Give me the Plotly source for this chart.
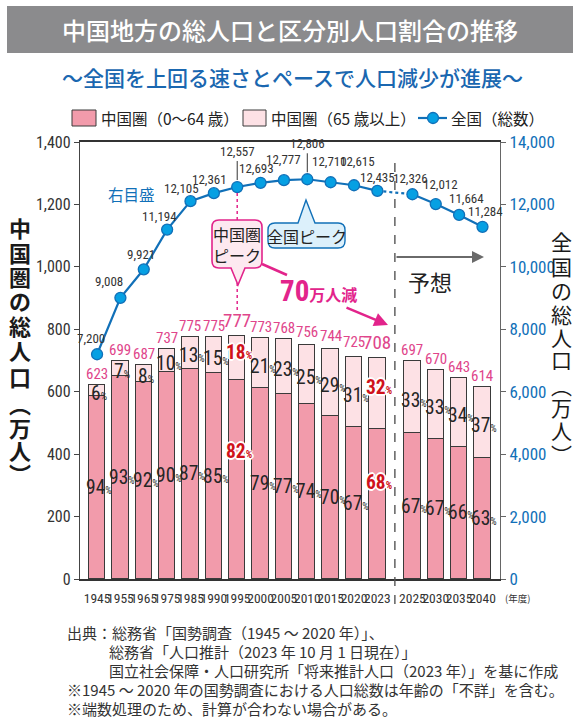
import plotly.graph_objects as go

# ---------------- data ----------------
years = ["1945", "1955", "1965", "1975", "1985", "1990", "1995", "2000", "2005",
         "2010", "2015", "2020", "2023", "2025", "2030", "2035", "2040"]
chugoku_total = [623, 699, 687, 737, 775, 775, 777, 773, 768, 756, 744, 725, 708,
                 697, 670, 643, 614]
pct_0_64 = [94, 93, 92, 90, 87, 85, 82, 79, 77, 74, 70, 67, 68, 67, 67, 66, 63]
pct_65_over = [6, 7, 8, 10, 13, 15, 18, 21, 23, 25, 29, 31, 32, 33, 33, 34, 37]
national_total = [7200, 9008, 9921, 11194, 12105, 12361, 12557, 12693, 12777, 12806,
                  12710, 12615, 12435, 12326, 12012, 11664, 11284]
left_ticks = [0, 200, 400, 600, 800, 1000, 1200, 1400]
right_ticks = [0, 2000, 4000, 6000, 8000, 10000, 12000, 14000]
highlight_years = ["1995", "2023"]

young = [t * p / 100 for t, p in zip(chugoku_total, pct_0_64)]
old = [t * p / 100 for t, p in zip(chugoku_total, pct_65_over)]

# category positions (extra gap between actual and forecast)
N_ACTUAL = 13
pos = [i + (0.5 if i >= N_ACTUAL else 0) for i in range(len(years))]

# ---------------- layout geometry ----------------
W, H = 573, 720
L, R, T, B = 80, 500, 142, 579


def pxx(X):
    return (X - L) / (R - L)


def pyy(Y):
    return (B - Y) / (B - T)


NARROW = "Roboto Condensed, Liberation Sans Narrow, sans-serif"
JP = "Noto Sans CJK JP, sans-serif"

C_YOUNG = "#f29bab"
C_OLD = "#fde1e5"
C_EDGE = "#3a3a3a"
C_BLUE = "#1170b8"
C_MARK = "#06a0e3"
C_PINK = "#e0458b"
C_MAG = "#e2248b"
C_RED = "#d0121b"

fig = go.Figure()

fig.add_trace(go.Bar(x=pos, y=young, width=0.7, marker=dict(color=C_YOUNG, line=dict(color=C_EDGE, width=1.2)),
                     showlegend=False, hoverinfo="skip"))
fig.add_trace(go.Bar(x=pos, y=old, width=0.7, marker=dict(color=C_OLD, line=dict(color=C_EDGE, width=1.2)),
                     showlegend=False, hoverinfo="skip"))

# national line: solid actual, dashed bridge, solid forecast
fig.add_trace(go.Scatter(x=pos[N_ACTUAL - 1:N_ACTUAL + 1], y=national_total[N_ACTUAL - 1:N_ACTUAL + 1],
                         yaxis="y2", mode="lines", line=dict(color=C_BLUE, width=2.2, dash="dot"),
                         showlegend=False, hoverinfo="skip"))
for sl in (slice(0, N_ACTUAL), slice(N_ACTUAL, None)):
    fig.add_trace(go.Scatter(x=pos[sl], y=national_total[sl], yaxis="y2", mode="lines+markers",
                             line=dict(color=C_BLUE, width=2.2),
                             marker=dict(size=11, color=C_MARK, line=dict(color=C_BLUE, width=1.3)),
                             showlegend=False, hoverinfo="skip"))

ann = []
shapes = []


def ptext(X, Y, text, font, xanchor="center", yanchor="middle"):
    ann.append(dict(x=pxx(X), y=pyy(Y), xref="paper", yref="paper", showarrow=False, text=text,
                    xanchor=xanchor, yanchor=yanchor, font=font))


# bar total labels
for i, (x, t) in enumerate(zip(pos, chugoku_total)):
    big = years[i] in highlight_years
    ann.append(dict(x=x, y=t, xref="x", yref="y", text=str(t), showarrow=False,
                    xanchor="center", yanchor="middle", yshift=16 if big else 11,
                    font=dict(family=NARROW, size=19 if big else 15, color=C_PINK)))

# percentage labels
for i, x in enumerate(pos):
    hl = years[i] in highlight_years
    col = C_RED if hl else "#262626"
    shadow = ("1px 1px 0 #fff, -1px -1px 0 #fff, 1px -1px 0 #fff, -1px 1px 0 #fff, "
              "0 2px 0 #fff, 0 -2px 0 #fff, 2px 0 0 #fff, -2px 0 0 #fff") if hl else "none"
    yy = young[i] * (0.64 if hl else 0.5)
    ann.append(dict(x=x, y=yy, xref="x", yref="y", showarrow=False, xshift=2,
                    xanchor="center", yanchor="middle",
                    text=f"{pct_0_64[i]}<span style='font-size:10px'>%</span>",
                    font=dict(family=NARROW, size=19.5, color=col, weight="bold" if hl else "normal",
                              shadow=shadow)))
    yo = young[i] + old[i] * 0.5
    ann.append(dict(x=x, y=yo, xref="x", yref="y", showarrow=False, xshift=2,
                    xanchor="center", yanchor="middle", yshift=(6 if hl else -3),
                    text=f"{pct_65_over[i]}<span style='font-size:10px'>%</span>",
                    font=dict(family=NARROW, size=19.5, color=col, weight="bold" if hl else "normal",
                              shadow=shadow)))

# national value labels (offsets in px)
offs = [(-6, -16), (-11, -16), (-3, -15), (-8, -13), (-9, -13), (-4, -14), None, (-4, -14), (0, -21), None,
        (-1, -21), (3, -24), (0, -13), (-2, -16), (5, -20), (7, -16), (3, -15)]
for i, (x, v) in enumerate(zip(pos, national_total)):
    txt = f"{v:,}"
    f = dict(family=NARROW, size=13, color="#333")
    if offs[i] is None:
        ann.append(dict(x=x, y=v, xref="x", yref="y2", text=txt, showarrow=True, arrowhead=0,
                        arrowwidth=1, arrowcolor="#333", ax=0, ay=-26, standoff=7, font=f,
                        xanchor="center", yanchor="bottom"))
    else:
        dx, dy = offs[i]
        ann.append(dict(x=x, y=v, xref="x", yref="y2", text=txt, showarrow=False,
                        xanchor="center", yanchor="middle", xshift=dx, yshift=-dy, font=f))

# forecast dashed divider
xdiv = (pos[N_ACTUAL - 1] + pos[N_ACTUAL]) / 2
shapes.append(dict(type="line", xref="x", yref="paper", x0=xdiv, x1=xdiv, y0=pyy(604), y1=pyy(160),
                   line=dict(color="#555", width=1.4, dash="dash"), layer="above"))

# pink dotted line from the national peak-year point down to the 777 label
peak_i = chugoku_total.index(max(chugoku_total))
shapes.append(dict(type="line", xref="x", yref="paper", x0=pos[peak_i], x1=pos[peak_i],
                   y0=pyy(310), y1=pyy(192), line=dict(color=C_MAG, width=1.5, dash="dot"), layer="above"))


def bubble(x0, y0, x1, y1, r, side, bx0, bx1, tx, ty):
    p = [("M", x0 + r, y0)]
    if side == "top":
        p += [("L", bx0, y0), ("L", tx, ty), ("L", bx1, y0)]
    p.append(("L", x1 - r, y0))
    p.append(("Q", x1, y0, x1, y0 + r))
    p.append(("L", x1, y1 - r))
    p.append(("Q", x1, y1, x1 - r, y1))
    if side == "bottom":
        p += [("L", bx1, y1), ("L", tx, ty), ("L", bx0, y1)]
    p.append(("L", x0 + r, y1))
    p.append(("Q", x0, y1, x0, y1 - r))
    p.append(("L", x0, y0 + r))
    p.append(("Q", x0, y0, x0 + r, y0))
    s = ""
    for item in p:
        vals = item[1:]
        coords = [f"{pxx(vals[k]):.5f},{pyy(vals[k + 1]):.5f}" for k in range(0, len(vals), 2)]
        s += item[0] + " ".join(coords) + " "
    return s + "Z"


shapes.append(dict(type="path", xref="paper", yref="paper",
                   path=bubble(212, 220, 262, 268, 7, "bottom", 231, 245, 238, 285),
                   fillcolor="#fde9f0", line=dict(color=C_MAG, width=1.6), layer="above"))
ptext(237, 244, "中国圏<br>ピーク", dict(family=JP, size=16, color="#222"))

shapes.append(dict(type="path", xref="paper", yref="paper",
                   path=bubble(268, 223, 345, 248, 7, "top", 298, 315, 306, 200),
                   fillcolor="#dcf0fb", line=dict(color=C_BLUE, width=1.4), layer="above"))
ptext(306.5, 235.5, "全国ピーク", dict(family=JP, size=16, color="#222"))

# magenta connector and arrow
shapes.append(dict(type="line", xref="paper", yref="paper", x0=pxx(262), y0=pyy(264), x1=pxx(287), y1=pyy(275),
                   line=dict(color=C_MAG, width=2.5), layer="above"))
ann.append(dict(x=pxx(388), y=pyy(325), xref="paper", yref="paper", text="", showarrow=True,
                ax=-43, ay=-18, arrowhead=2, arrowsize=1.1, arrowwidth=2.5, arrowcolor=C_MAG))
ptext(318, 291, "70<span style='font-size:16px'>万人減</span>",
      dict(family=NARROW + ", " + JP, size=29, color=C_MAG, weight="bold"))

# forecast arrow and label
ann.append(dict(x=pxx(484), y=pyy(257), xref="paper", yref="paper", text="", showarrow=True,
                ax=-89, ay=0, arrowhead=2, arrowsize=1.2, arrowwidth=2, arrowcolor="#6a6a6a"))
ptext(430, 281, "予想", dict(family=JP, size=22, color="#222"))

ptext(131, 194, "右目盛", dict(family=JP, size=15.5, color=C_BLUE))

# title banner
shapes.append(dict(type="rect", xref="paper", yref="paper", x0=pxx(7), x1=pxx(573), y0=pyy(53), y1=pyy(6),
                   fillcolor="#8b8b8d", line=dict(width=0), layer="below"))
ptext(290, 30, "中国地方の総人口と区分別人口割合の推移", dict(family=JP, size=24, color="#ffffff", weight=500))
ptext(292, 77, "～全国を上回る速さとペースで人口減少が進展～", dict(family=JP, size=21, color="#1a67b0", weight=500))

# legend
shapes.append(dict(type="rect", xref="paper", yref="paper", x0=pxx(72), x1=pxx(96), y0=pyy(126), y1=pyy(110),
                   fillcolor=C_YOUNG, line=dict(color=C_EDGE, width=1)))
ptext(99, 118, "中国圏（0～64 歳）", dict(family=JP, size=15.5, color="#222"), xanchor="left")
shapes.append(dict(type="rect", xref="paper", yref="paper", x0=pxx(243), x1=pxx(266), y0=pyy(126), y1=pyy(110),
                   fillcolor=C_OLD, line=dict(color=C_EDGE, width=1)))
ptext(269, 118, "中国圏（65 歳以上）", dict(family=JP, size=15.5, color="#222"), xanchor="left")
shapes.append(dict(type="line", xref="paper", yref="paper", x0=pxx(418), x1=pxx(447), y0=pyy(118), y1=pyy(118),
                   line=dict(color=C_BLUE, width=2.2)))
shapes.append(dict(type="circle", xref="paper", yref="paper", x0=pxx(427.5), x1=pxx(438.5), y0=pyy(123.5),
                   y1=pyy(112.5), fillcolor=C_MARK, line=dict(color=C_BLUE, width=1.3)))
ptext(449, 118, "全国（総数）", dict(family=JP, size=15.5, color="#222"), xanchor="left")

# vertical axis titles
left_chars = ["中", "国", "圏", "の", "総", "人", "口", "︵", "万", "人", "︶"]
left_y = [227, 252, 276, 300, 325, 350, 376, 403, 427, 450, 473]
for ch, yv in zip(left_chars, left_y):
    ptext(20, yv, ch, dict(family=JP, size=22, color="#1a1a1a", weight="bold"))
right_chars = ["全", "国", "の", "総", "人", "口", "︵", "万", "人", "︶"]
right_y = [241, 266, 290, 314, 337, 359, 385, 407, 430, 454]
for ch, yv in zip(right_chars, right_y):
    ptext(561, yv, ch, dict(family=JP, size=21, color="#1a1a1a"))

# year-unit label
ptext(503, 598, "(年度)", dict(family=JP, size=9.5, color="#333"), xanchor="left")

# footnotes
notes = [
    (65, 632, "出典：総務省「国勢調査（1945 ～ 2020 年）」、"),
    (107, 651, "総務省「人口推計（2023 年 10 月 1 日現在）」"),
    (107, 670, "国立社会保障・人口研究所「将来推計人口（2023 年）」を基に作成"),
    (65, 689, "※1945 ～ 2020 年の国勢調査における人口総数は年齢の「不詳」を含む。"),
    (65, 708, "※端数処理のため、計算が合わない場合がある。"),
]
for xn, yn, tx in notes:
    ptext(xn, yn, tx, dict(family=JP, size=15, color="#333"), xanchor="left")

fig.update_layout(
    width=W, height=H,
    margin=dict(l=L, r=W - R, t=T, b=H - B, pad=0, autoexpand=False),
    paper_bgcolor="white", plot_bgcolor="white",
    barmode="stack", bargap=0,
    showlegend=False,
    xaxis=dict(range=[-0.73, pos[-1] + 0.75], tickvals=pos, ticktext=years, showgrid=False, zeroline=False,
               showline=True, linecolor="#333", linewidth=1.5, mirror=True, ticks="", tickangle=0,
               ticklabelstandoff=6, automargin=False,
               tickfont=dict(family=NARROW, size=13.5, color="#333"), fixedrange=True),
    yaxis=dict(range=[0, 1400], tickvals=left_ticks, tickformat=",d", showgrid=False, zeroline=False,
               showline=True, linecolor="#444", linewidth=1.3, ticks="outside", ticklen=5, tickcolor="#444",
               automargin=False, tickfont=dict(family=NARROW, size=16, color="#333")),
    yaxis2=dict(range=[0, 14000], tickvals=right_ticks, tickformat=",d", overlaying="y", side="right",
                showgrid=False, zeroline=False, showline=True, linecolor="#666", linewidth=1.3,
                ticks="outside", ticklen=5, tickcolor="#666", automargin=False,
                tickfont=dict(family=NARROW, size=17, color=C_BLUE)),
    annotations=ann,
    shapes=shapes,
)

fig.write_html("out.html", config={"displayModeBar": False},
               post_script="document.body.style.margin='0';")
